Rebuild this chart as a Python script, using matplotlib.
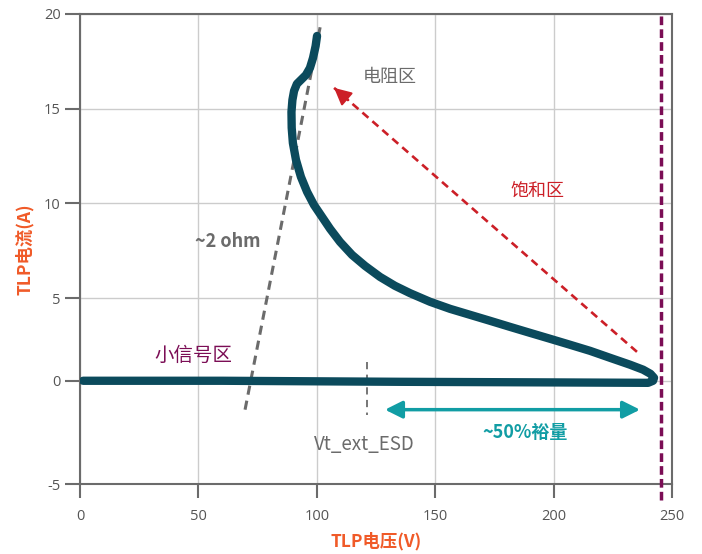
import numpy as np
import matplotlib
matplotlib.use("Agg")
import matplotlib.pyplot as plt

plt.rcParams['font.family'] = ['Noto Sans CJK SC', 'DejaVu Sans']

# TLP I-V curve: baseline out to the snapback point, then back up the upper branch
tlp_v = [1.3, 60, 135, 200, 239.9, 242.0, 242.4, 240.9, 237.8, 232.3, 223.8, 215.4,
         206.9, 198.5, 190.0, 181.6, 173.1, 164.7, 156.3, 147.8, 139.4, 133.0,
         126.7, 120.4, 114.9, 109.8, 105.6, 102.2, 98.8, 95.9, 93.3, 91.2, 89.9,
         89.4, 89.3, 89.7, 90.4, 91.6, 93.3, 95.4, 97.1, 98.4, 99.5, 100.1]
tlp_i = [0.0, 0.0, -0.05, -0.08, -0.10, 0.0, 0.18, 0.42, 0.67, 0.97, 1.39, 1.81,
         2.18, 2.54, 2.90, 3.26, 3.63, 3.99, 4.35, 4.78, 5.26, 5.65,
         6.12, 6.70, 7.28, 7.97, 8.66, 9.29, 9.92, 10.61, 11.40, 12.30, 13.19,
         13.99, 14.83, 15.46, 15.94, 16.31, 16.52, 16.78, 17.15, 17.68, 18.31, 18.84]

# ~2 ohm load line
ohm_v = [69.7, 101.4]
ohm_i = [-1.4, 19.3]

# saturation arrow (tail, head)
sat_v = [235.2, 107.3]
sat_i = [1.75, 16.1]

# margin arrow and markers
margin_v = [128.8, 236.5]
margin_i = -1.4
vt_ext_esd = 121.2
vt_i = [1.15, -1.65]
v_limit = 245.4

x_ticks = [0, 50, 100, 150, 200, 250]
y_ticks = [-5, 0, 5, 10, 15, 20]

# piecewise-linear current axis (low range stretched differently)
ky = np.array([-5.0, 0.0, 5.0, 20.0])
kp = np.array([0.0, 103.3, 186.0, 470.3])
s_lo = (kp[1] - kp[0]) / (ky[1] - ky[0])
s_hi = (kp[-1] - kp[-2]) / (ky[-1] - ky[-2])


def fwd(y):
    y = np.asarray(y, dtype=float)
    out = np.interp(y, ky, kp)
    out = np.where(y < ky[0], kp[0] + (y - ky[0]) * s_lo, out)
    out = np.where(y > ky[-1], kp[-1] + (y - ky[-1]) * s_hi, out)
    return out


def inv(p):
    p = np.asarray(p, dtype=float)
    out = np.interp(p, kp, ky)
    out = np.where(p < kp[0], ky[0] + (p - kp[0]) / s_lo, out)
    out = np.where(p > kp[-1], ky[-1] + (p - kp[-1]) / s_hi, out)
    return out


fig = plt.figure(figsize=(7.02, 5.54), dpi=100)
ax = fig.add_axes([80 / 702, 1 - 484 / 554, 592 / 702, 470 / 554])
ax.set_yscale('function', functions=(fwd, inv))
ax.set_xlim(0, 250)
ax.set_ylim(-5, 20)
ax.set_xticks(x_ticks)
ax.set_yticks(y_ticks)
ax.set_yticklabels([str(t) for t in y_ticks])
ax.minorticks_off()

ax.grid(True, color='#cccccc', linewidth=1)
ax.set_axisbelow(True)
for sp in ax.spines.values():
    sp.set_color('#6b6b6b')
    sp.set_linewidth(1.5)
ax.tick_params(axis='both', colors='#6b6b6b', labelcolor='#555555',
               labelsize=10.5, width=1.5)
ax.tick_params(axis='y', length=11, pad=3)
ax.tick_params(axis='x', length=10, pad=8)
for lbl in ax.get_xticklabels() + ax.get_yticklabels():
    lbl.set_fontfamily('Open Sans')

ax.set_xlabel('TLP电压(V)', color='#f05a28', fontsize=12.5, fontweight='bold', labelpad=6)
ax.set_ylabel('TLP电流(A)', color='#f05a28', fontsize=12.5, fontweight='bold', labelpad=7)

# load line
ax.plot(ohm_v, ohm_i, color='#6b6b6b', lw=2.2, ls=(0, (3, 2)), zorder=2)
ax.text(48.5, 8.0, '~2 ohm', color='#6b6b6b', fontsize=13, fontweight='bold',
        va='center')

# TLP curve
ax.plot(tlp_v, tlp_i, color='#0b4a5c', lw=6, solid_capstyle='round',
        solid_joinstyle='round', zorder=4)

# saturation arrow
ax.plot(sat_v, sat_i, color='#cc1f27', lw=1.9, ls=(0, (3, 2)), zorder=3)
ax.annotate('', xy=(sat_v[1], sat_i[1]), xytext=(sat_v[1] + 6, sat_i[1] - 0.65),
            arrowprops=dict(arrowstyle='-|>', color='#cc1f27', lw=1.5,
                            mutation_scale=26, shrinkA=0, shrinkB=0), zorder=3)
ax.text(193, 10.6, '饱和区', color='#cc1f27', fontsize=13, ha='center', va='center')
ax.text(131, 16.7, '电阻区', color='#6b6b6b', fontsize=13, ha='center', va='center')

# voltage limit
ax.axvline(v_limit, ymin=-0.035, ymax=1.0, color='#7b0d55', lw=2.5,
           ls=(0, (2.5, 1.2)), clip_on=False, zorder=5)

# margin arrow
ax.annotate('', xy=(margin_v[1], margin_i), xytext=(margin_v[0], margin_i),
            arrowprops=dict(arrowstyle='<|-|>', color='#119da4', lw=2.5,
                            mutation_scale=26, shrinkA=0, shrinkB=0), zorder=3)
ax.text(188, -2.5, '~50%裕量', color='#119da4', fontsize=13, fontweight='bold',
        ha='center', va='center')

# trigger voltage marker
ax.plot([vt_ext_esd, vt_ext_esd], vt_i, color='#6b6b6b', lw=1.3, ls=(0, (4, 3)), zorder=2)
ax.text(120, -3.1, 'Vt_ext_ESD', color='#6b6b6b', fontsize=13.5, ha='center', va='center')

ax.text(47.7, 1.55, '小信号区', color='#7b0d55', fontsize=14, ha='center', va='center')

fig.savefig('out.png', dpi=100)
